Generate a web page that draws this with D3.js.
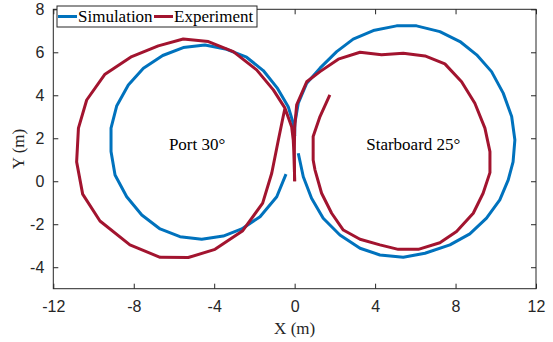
<!DOCTYPE html>
<html><head><meta charset="utf-8">
<script src="https://cdn.jsdelivr.net/npm/d3@7"></script>
<style>body{margin:0;background:#fff}svg{display:block}</style>
</head><body>
<script>
const xTicks = [-12, -8, -4, 0, 4, 8, 12];
const yTicks = [-4, -2, 0, 2, 4, 6, 8];
const seriesNames = ["Simulation", "Experiment"];
const annotations = ["Port 30°", "Starboard 25°"];

const simPortX = [0.0,-0.07,-0.32,-0.85,-1.56,-2.39,-3.38,-4.46,-5.54,-6.56,-7.52,-8.27,-8.85,-9.13,-9.13,-8.93,-8.35,-7.60,-6.69,-5.70,-4.62,-3.55,-2.63,-1.72,-0.89,-0.43];
const simPortY = [2.1,2.70,3.47,4.32,5.15,5.77,6.14,6.34,6.22,5.85,5.26,4.48,3.50,2.47,1.38,0.29,-0.72,-1.57,-2.22,-2.58,-2.70,-2.55,-2.22,-1.65,-0.72,0.33];

const simStbdX = [0.0,0.01,0.18,0.60,1.26,2.09,2.91,3.91,5.07,6.06,7.22,8.22,9.05,9.79,10.37,10.79,10.95,10.86,10.62,10.20,9.54,8.71,7.72,6.48,5.40,4.24,3.25,2.25,1.42,0.84,0.43,0.18];
const simStbdY = [2.1,2.70,3.63,4.56,5.26,6.03,6.61,7.01,7.23,7.23,6.96,6.50,5.88,5.10,4.10,3.01,1.92,0.90,0.06,-0.87,-1.72,-2.45,-2.96,-3.35,-3.54,-3.43,-3.12,-2.50,-1.72,-0.79,0.21,1.30];

const expPortX = [0.0,-0.02,-0.07,-0.15,-0.48,-1.06,-1.89,-3.05,-4.29,-5.54,-6.78,-8.10,-9.43,-10.34,-10.75,-10.84,-10.54,-9.68,-8.19,-6.69,-5.29,-3.96,-2.58,-1.59,-1.14,-0.81,-0.57,-0.48];
const expPortY = [0.0,1.0,1.92,2.54,3.40,4.25,5.18,6.03,6.50,6.62,6.30,5.80,4.98,3.78,2.47,0.90,-0.60,-1.85,-2.96,-3.54,-3.55,-3.17,-2.30,-1.02,0.37,1.92,3.01,3.40];

const expStbdX = [0.0,-0.02,0.0,0.10,0.60,1.26,2.17,3.25,4.32,5.40,6.48,7.47,8.30,8.96,9.46,9.71,9.71,9.37,8.88,8.05,7.22,6.15,5.15,4.24,3.25,2.42,1.84,1.34,1.01,0.92,0.92,1.26,1.75];
const expStbdY = [0.0,1.0,2.5,3.55,4.63,5.10,5.68,6.00,5.88,5.96,5.83,5.46,4.63,3.63,2.47,1.38,0.40,-0.56,-1.49,-2.34,-2.86,-3.17,-3.17,-2.96,-2.70,-2.27,-1.49,-0.56,0.53,0.99,2.08,3.01,4.02];

const W = 553, H = 342;
const L = 53.3, R = 536, T = 9.3, B = 288.7;
const axisColor = "#262626";
const colors = {Simulation: "#0072BD", Experiment: "#A2142F"};

const svg = d3.select("body").append("svg").attr("width", W).attr("height", H);
const x = d3.scaleLinear().domain([-12, 12]).range([L, R]);
const y = d3.scaleLinear().domain([-5, 8]).range([B, T]);

const line = d3.line().x(d => x(d[0])).y(d => y(d[1]));
const zip = (a, b) => a.map((v, i) => [v, b[i]]);

const series = [
  {name: "Simulation", data: [zip(simPortX, simPortY), zip(simStbdX, simStbdY)]},
  {name: "Experiment", data: [zip(expPortX, expPortY), zip(expStbdX, expStbdY)]}
];

const plot = svg.append("g");
series.forEach(s => {
  s.data.forEach(pts => {
    plot.append("path").attr("d", line(pts)).attr("fill", "none")
      .attr("stroke", colors[s.name]).attr("stroke-width", 3)
      .attr("stroke-linejoin", "round");
  });
});

// axes
const tickLen = 5;
const fontSans = "'Liberation Sans', Arial, sans-serif";
const fontSerif = "'Liberation Serif', 'Times New Roman', serif";
const ax = svg.append("g");
ax.append("g").attr("transform", `translate(0,${B})`)
  .call(d3.axisBottom(x).tickValues(xTicks).tickSizeInner(-tickLen).tickSizeOuter(0).tickPadding(12).tickFormat(d => d < 0 ? "-" + Math.abs(d) : d))
  .call(g => { g.select(".domain").remove(); g.selectAll("line").attr("stroke", axisColor); g.selectAll("text").attr("fill", axisColor).attr("font-size", 16).attr("font-family", fontSans); });
ax.append("g").attr("transform", `translate(0,${T})`)
  .call(d3.axisTop(x).tickValues(xTicks).tickSizeInner(-tickLen).tickSizeOuter(0).tickFormat(""))
  .call(g => { g.select(".domain").remove(); g.selectAll("line").attr("stroke", axisColor); });
ax.append("g").attr("transform", `translate(${L},0)`)
  .call(d3.axisLeft(y).tickValues(yTicks).tickSizeInner(-tickLen).tickSizeOuter(0).tickPadding(9).tickFormat(d => d < 0 ? "-" + Math.abs(d) : d))
  .call(g => { g.select(".domain").remove(); g.selectAll("line").attr("stroke", axisColor); g.selectAll("text").attr("fill", axisColor).attr("font-size", 16).attr("font-family", fontSans); });
ax.append("g").attr("transform", `translate(${R},0)`)
  .call(d3.axisRight(y).tickValues(yTicks).tickSizeInner(-tickLen).tickSizeOuter(0).tickFormat(""))
  .call(g => { g.select(".domain").remove(); g.selectAll("line").attr("stroke", axisColor); });
ax.append("rect").attr("x", L).attr("y", T).attr("width", R - L).attr("height", B - T)
  .attr("fill", "none").attr("stroke", axisColor).attr("stroke-width", 1);

// axis labels
svg.append("text").attr("x", (L + R) / 2).attr("y", 334).attr("text-anchor", "middle")
  .attr("font-family", fontSerif).attr("font-size", 17).attr("fill", axisColor).text("X (m)");
svg.append("text").attr("transform", `translate(24,${(T + B) / 2}) rotate(-90)`).attr("text-anchor", "middle")
  .attr("font-family", fontSerif).attr("font-size", 17).attr("fill", axisColor).text("Y (m)");

// annotations
svg.append("text").attr("x", x(-4.85)).attr("y", 150).attr("text-anchor", "middle")
  .attr("font-family", fontSerif).attr("font-size", 17).attr("fill", "#000").text(annotations[0]);
svg.append("text").attr("x", x(5.9)).attr("y", 150).attr("text-anchor", "middle")
  .attr("font-family", fontSerif).attr("font-size", 17).attr("fill", "#000").text(annotations[1]);

// legend
const lg = svg.append("g");
lg.append("rect").attr("x", 57).attr("y", 6).attr("width", 200).attr("height", 21)
  .attr("fill", "#fff").attr("stroke", axisColor).attr("stroke-width", 1);
const legX = [58, 154];
seriesNames.forEach((n, i) => {
  lg.append("line").attr("x1", legX[i]).attr("x2", legX[i] + 19).attr("y1", 16.5).attr("y2", 16.5)
    .attr("stroke", colors[n]).attr("stroke-width", 3);
  lg.append("text").attr("x", legX[i] + 20).attr("y", 22).attr("font-family", fontSerif)
    .attr("font-size", 17).attr("fill", "#000").text(n);
});
</script>
</body></html>
